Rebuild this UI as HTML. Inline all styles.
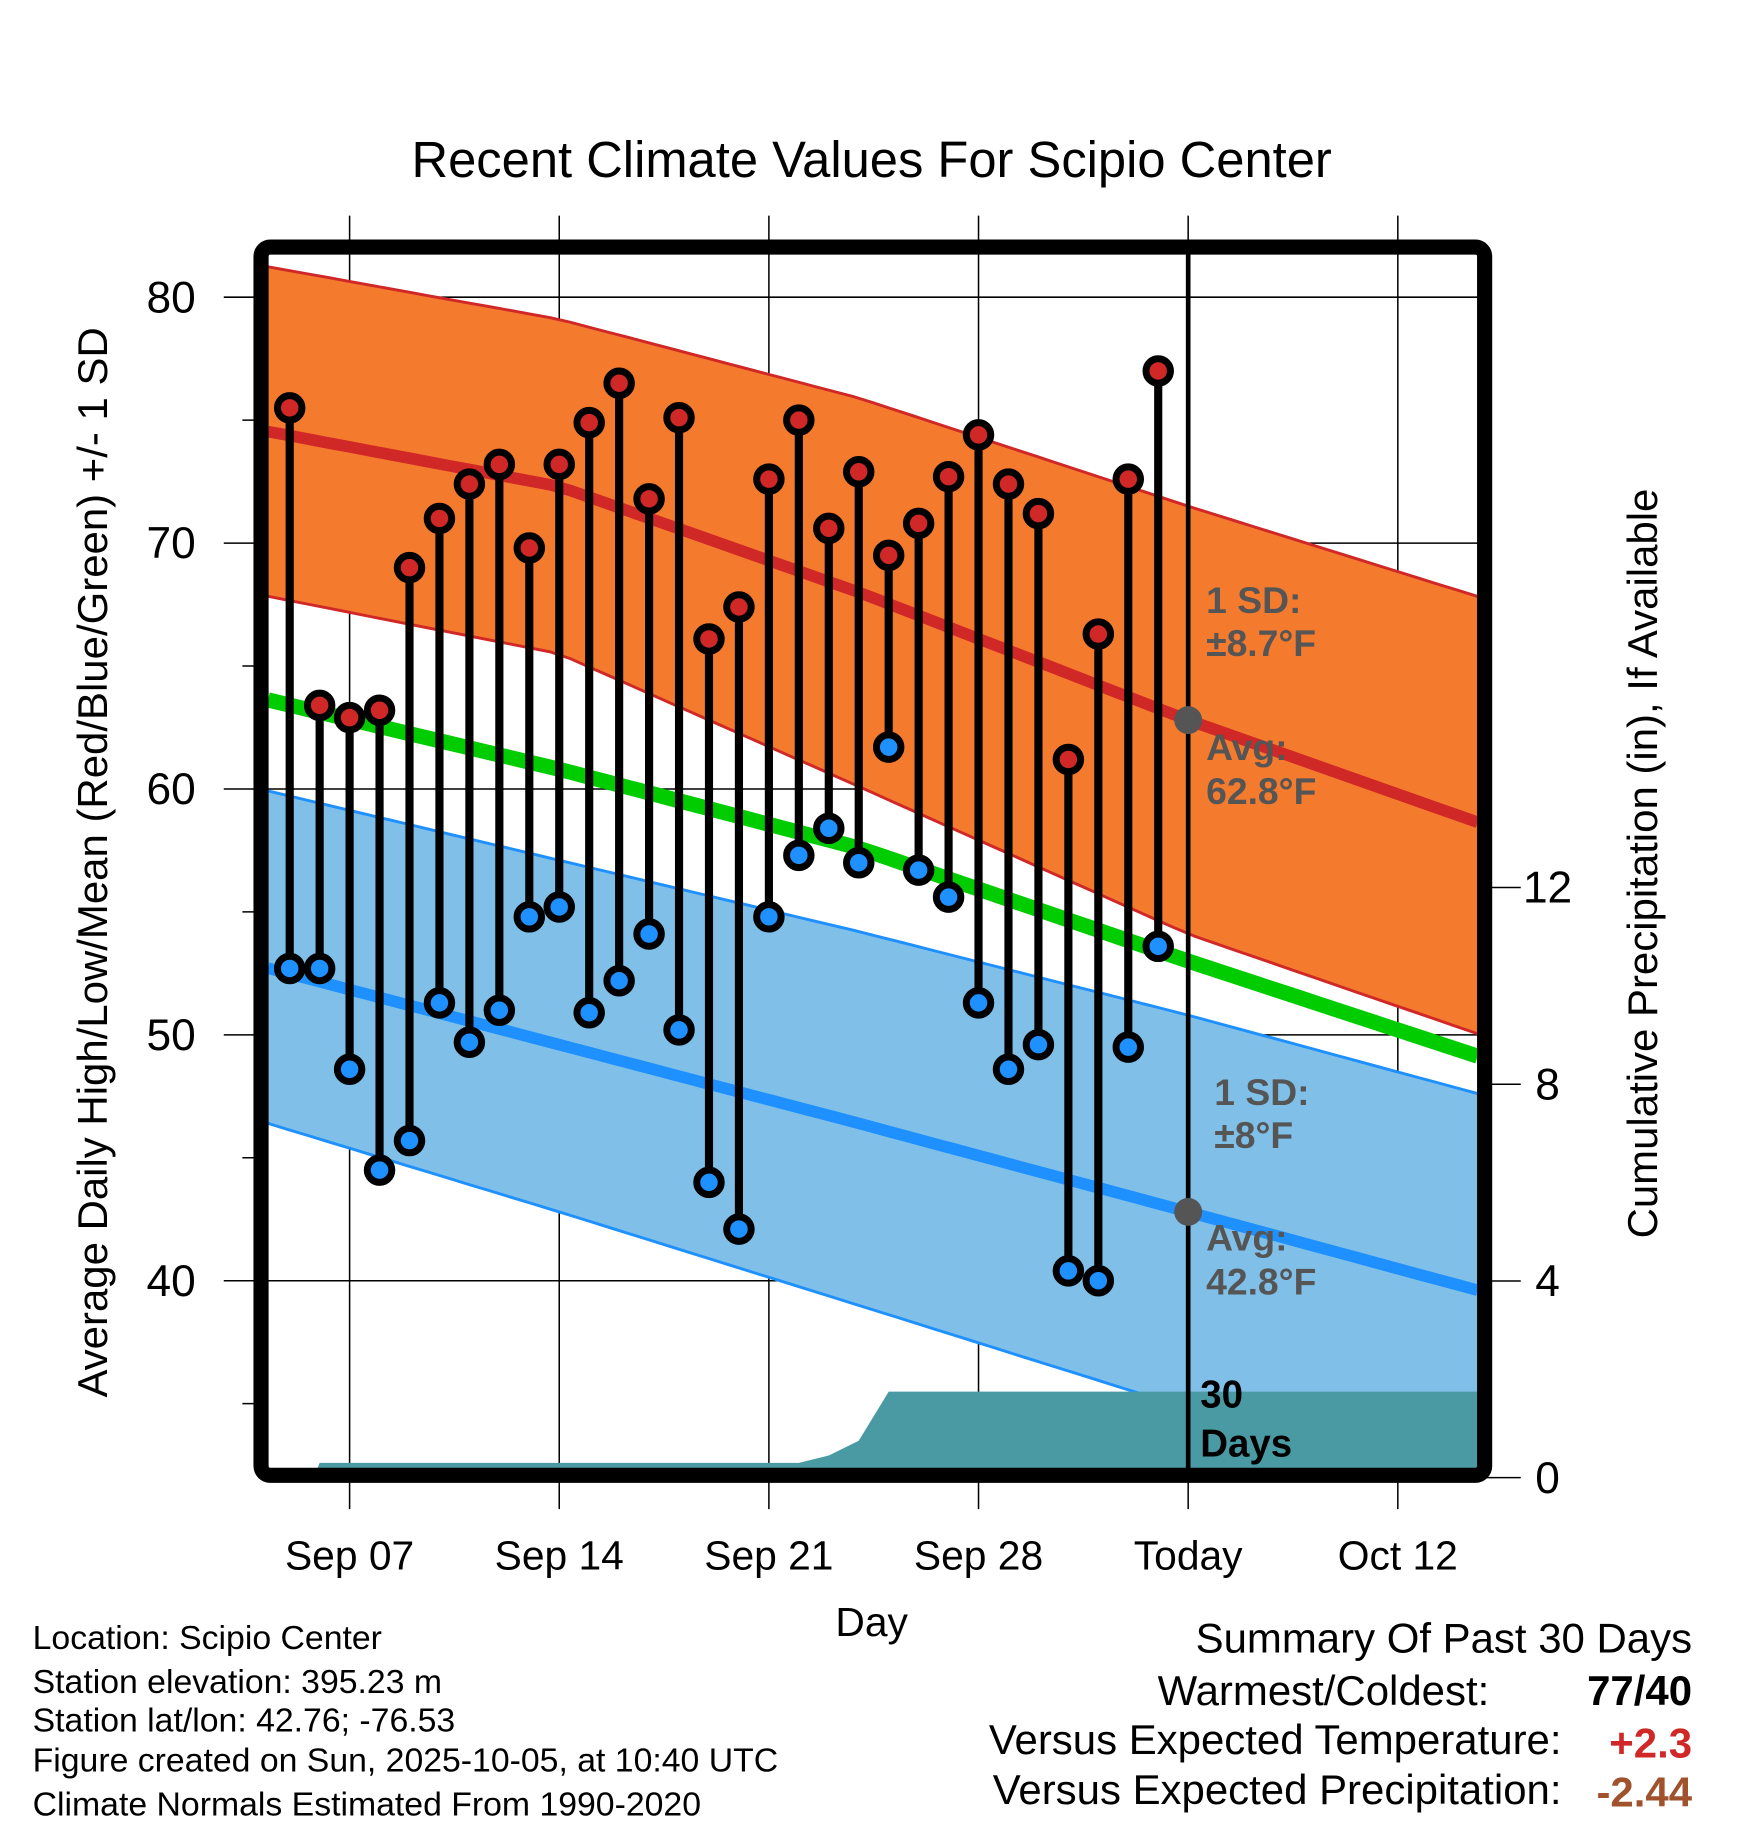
<!DOCTYPE html>
<html><head><meta charset="utf-8"><style>html,body{margin:0;padding:0;background:#fff}svg{display:block}text{font-family:"Liberation Sans",Arial,sans-serif}</style></head>
<body>
<svg id="chart" width="1748" height="1828" viewBox="0 0 1500 1568.6" xmlns="http://www.w3.org/2000/svg">
<text x="748" y="152" font-size="43.5" text-anchor="middle">Recent Climate Values For Scipio Center</text>
<g id="grid"></g>
<g id="plot"></g>
<g id="frame"></g>
<g id="labels"></g>
<text x="748" y="1404" font-size="35" text-anchor="middle">Day</text>
<text transform="translate(92,740) rotate(-90)" font-size="36" text-anchor="middle">Average Daily High/Low/Mean (Red/Blue/Green) +/- 1 SD</text>
<text transform="translate(1422,741) rotate(-90)" font-size="36" text-anchor="middle">Cumulative Precipitation (in), If Available</text>
<g font-size="29">
<text x="28" y="1415">Location: Scipio Center</text>
<text x="28" y="1453">Station elevation: 395.23 m</text>
<text x="28" y="1486">Station lat/lon: 42.76; -76.53</text>
<text x="28" y="1520">Figure created on Sun, 2025-10-05, at 10:40 UTC</text>
<text x="28" y="1558">Climate Normals Estimated From 1990-2020</text>
</g>
<g font-size="36">
<text x="1452" y="1418" text-anchor="end">Summary Of Past 30 Days</text>
<text x="1278" y="1463" text-anchor="end">Warmest/Coldest:</text>
<text x="1452" y="1463" text-anchor="end" font-weight="bold">77/40</text>
<text x="1340" y="1505" text-anchor="end">Versus Expected Temperature:</text>
<text x="1452" y="1508" text-anchor="end" font-weight="bold" fill="#d02727">+2.3</text>
<text x="1340" y="1548" text-anchor="end">Versus Expected Precipitation:</text>
<text x="1452" y="1550" text-anchor="end" font-weight="bold" fill="#a0522d">-2.44</text>
</g>
</svg>
<script>
// day index: 0 = Sep 07; Today (Oct 05) = 28
const obsDays = [-2,-1,0,1,2,3,4,5,6,7,8,9,10,11,12,13,14,15,16,17,18,19,20,21,22,23,24,25,26,27];
const highs = [75.5,63.4,62.9,63.2,69.0,71.0,72.4,73.2,69.8,73.2,74.9,76.5,71.8,75.1,66.1,67.4,72.6,75.0,70.6,72.9,69.5,70.8,72.7,74.4,72.4,71.2,61.2,66.3,72.6,77.0];
const lows = [52.7,52.7,48.6,44.5,45.7,51.3,49.7,51.0,54.8,55.2,50.9,52.2,54.1,50.2,44.0,42.1,54.8,57.3,58.4,57.0,61.7,56.7,55.6,51.3,48.6,49.6,40.4,40.0,49.5,53.6];
const normDays = [-3,7,17,28,38];
const normHigh = [74.6,72.3,68.0,62.8,58.5];
const sdHighUp = [6.7,6.8,7.9,8.7,9.2];
const sdHighDn = [6.7,6.8,7.9,8.7,8.6];
const normMean = [63.7,60.8,57.6,53.0,49.0];
const normLow = [52.8,49.6,46.4,42.8,39.5];
const sdLowUp = [7.2,7.5,7.8,8.0,8.0];
const sdLowDn = [6.3,6.8,7.4,8.0,8.0];
const precipDays = [-1.2,-1,0,10,14,15,16,17,18,38];
const precip = [0,0.3,0.3,0.3,0.3,0.3,0.45,0.75,1.75,1.75];
const xTicks = [0,7,14,21,28,35];
const xTickLabels = ["Sep 07","Sep 14","Sep 21","Sep 28","Today","Oct 12"];
const yTicks = [40,50,60,70,80];
const y2Ticks = [0,4,8,12];

const NS="http://www.w3.org/2000/svg";
const L=230,R=1268,T=218,B=1260;
const xS=d=>300+d*25.7;
const yS=v=>255+(80-v)*21.1;
const y2S=p=>1268-p*42.2;
function mk(tag,attrs,parent){const e=document.createElementNS(NS,tag);for(const k in attrs)e.setAttribute(k,attrs[k]);parent.appendChild(e);return e;}
const grid=document.getElementById('grid'),plot=document.getElementById('plot'),frame=document.getElementById('frame'),labels=document.getElementById('labels');
function interp(days,vals,d){if(d<=days[0])return vals[0]+(vals[1]-vals[0])*(d-days[0])/(days[1]-days[0]);for(let i=1;i<days.length;i++){if(d<=days[i])return vals[i-1]+(vals[i]-vals[i-1])*(d-days[i-1])/(days[i]-days[i-1]);}const n=days.length;return vals[n-1]+(vals[n-1]-vals[n-2])*(d-days[n-1])/(days[n-1]-days[n-2]);}
const d0=(L-300)/25.7,d1=(R-300)/25.7;
const samp=[];for(let i=0;i<=60;i++)samp.push(d0+(d1-d0)*i/60);
const pts=(f)=>samp.map(d=>xS(d).toFixed(1)+','+yS(f(d)).toFixed(1));
const hi=d=>interp(normDays,normHigh,d), lo=d=>interp(normDays,normLow,d);
const hiU=d=>hi(d)+interp(normDays,sdHighUp,d), hiD=d=>hi(d)-interp(normDays,sdHighDn,d);
const loU=d=>lo(d)+interp(normDays,sdLowUp,d), loD=d=>lo(d)-interp(normDays,sdLowDn,d);
const clip=mk('clipPath',{id:'pc'},plot);mk('rect',{x:L,y:T,width:R-L,height:B-T},clip);
const g=mk('g',{'clip-path':'url(#pc)'},plot);
let e=mk('polygon',{points:pts(loU).concat(pts(loD).reverse()).join(' '),fill:'#80c0e8'},g);

e=mk('polygon',{points:pts(hiU).concat(pts(hiD).reverse()).join(' '),fill:'#f47a2e'},g);

[[hiU,'#d02727',2.5],[hiD,'#d02727',2.5],[loU,'#1e90ff',2.5],[loD,'#1e90ff',2.5]].forEach(([f,c,w])=>{mk('polyline',{points:pts(f).join(' '),fill:'none',stroke:c,'stroke-width':w},g);});
const pp=precipDays.map((d,i)=>xS(d).toFixed(1)+','+y2S(precip[i]).toFixed(1));
e=mk('polygon',{points:[xS(precipDays[0])+','+B].concat(pp).concat([xS(precipDays[precipDays.length-1])+','+B]).join(' '),fill:'#4a9aa4'},g);

xTicks.forEach(d=>{mk('line',{x1:xS(d),x2:xS(d),y1:185,y2:1295,stroke:'#000','stroke-width':1.3},grid);});
yTicks.forEach(v=>{mk('line',{x1:192,x2:R,y1:yS(v),y2:yS(v),stroke:'#000','stroke-width':1.3},grid);});
for(let v=35;v<=75;v+=10){mk('line',{x1:208,x2:222,y1:yS(v),y2:yS(v),stroke:'#000','stroke-width':1.3},grid);}
y2Ticks.forEach(p=>{mk('line',{x1:1275,x2:1305,y1:y2S(p),y2:y2S(p),stroke:'#000','stroke-width':1.3},grid);});
e=mk('polyline',{points:pts(d=>interp(normDays,normMean,d)).join(' '),fill:'none',stroke:'#00cc00','stroke-width':13},g);

e=mk('polyline',{points:pts(hi).join(' '),fill:'none',stroke:'#d02727','stroke-width':10},g);

e=mk('polyline',{points:pts(lo).join(' '),fill:'none',stroke:'#1e90ff','stroke-width':10},g);

mk('line',{x1:xS(28),x2:xS(28),y1:T-10,y2:B+5,stroke:'#000','stroke-width':4},g);
mk('circle',{cx:xS(28),cy:yS(62.8),r:12,fill:'#555'},g);
mk('circle',{cx:xS(28),cy:yS(42.8),r:12,fill:'#555'},g);
obsDays.forEach((d,i)=>{
 const s=mk('line',{x1:xS(d),x2:xS(d),y1:yS(highs[i]),y2:yS(lows[i]),stroke:'#000','stroke-width':7},g);
 
});
obsDays.forEach((d,i)=>{
 const h=mk('circle',{cx:xS(d),cy:yS(highs[i]),r:10.5,fill:'#d02727',stroke:'#000','stroke-width':6},g);
 
 const l=mk('circle',{cx:xS(d),cy:yS(lows[i]),r:10.5,fill:'#1e90ff',stroke:'#000','stroke-width':6},g);
 
});
const ann=[[1035,526,'1 SD:'],[1035,563,'±8.7°F'],[1035,652,'Avg:'],[1035,690,'62.8°F'],[1042,948,'1 SD:'],[1042,985,'±8°F'],[1035,1073,'Avg:'],[1035,1111,'42.8°F']];
ann.forEach(([x,y,t])=>{const a=mk('text',{x:x,y:y,'font-size':32,'font-weight':'bold',fill:'#555'},g);a.textContent=t;});
[[1030,1208,'30'],[1030,1250,'Days']].forEach(([x,y,t])=>{const a=mk('text',{x:x,y:y,'font-size':33,'font-weight':'bold',fill:'#000'},g);a.textContent=t;});
e=mk('rect',{x:224,y:212,width:1050,height:1054,rx:8,fill:'none',stroke:'#000','stroke-width':13},frame);

xTicks.forEach((d,i)=>{const t=mk('text',{x:xS(d),y:1347,'font-size':35,'text-anchor':'middle'},labels);t.textContent=xTickLabels[i];});
yTicks.forEach(v=>{const t=mk('text',{x:168,y:yS(v)+13,'font-size':38,'text-anchor':'end'},labels);t.textContent=v;});
y2Ticks.forEach(p=>{const t=mk('text',{x:1328,y:y2S(p)+13,'font-size':38,'text-anchor':'middle'},labels);t.textContent=p;});
</script>
</body></html>
